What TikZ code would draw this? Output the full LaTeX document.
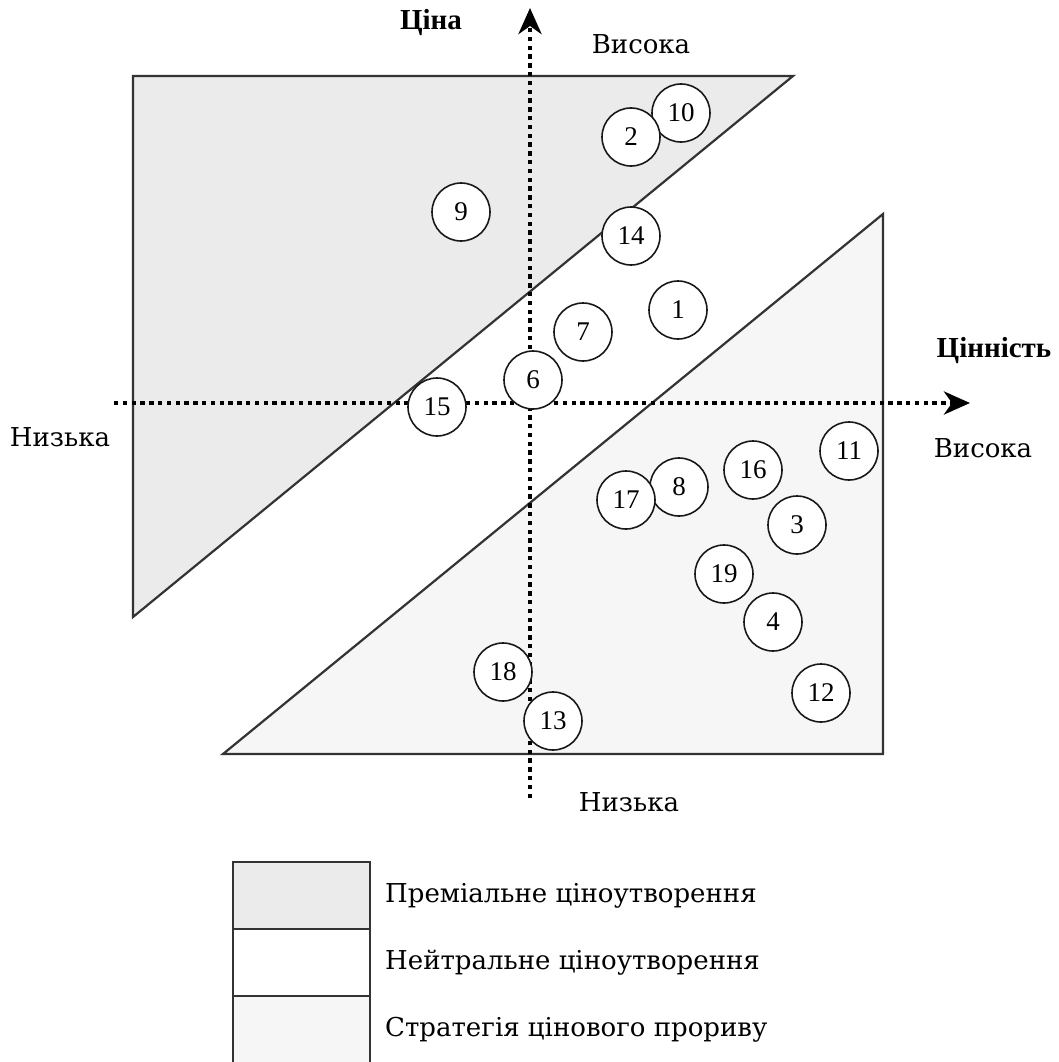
\documentclass[tikz,border=0pt]{standalone}
\usepackage{fontspec}
\setmainfont{DejaVu Serif}
\newfontfamily\boldlab{Liberation Serif}
\newfontfamily\numfont{Liberation Serif}
\usetikzlibrary{arrows.meta}
\definecolor{premium}{HTML}{EBEBEB}
\definecolor{breakthrough}{HTML}{F6F6F6}
\tikzset{
  region/.style={draw=black!80, line width=2.2pt, line join=miter},
  axisline/.style={line width=4.4pt, dash pattern=on 4.4pt off 4.4pt,
     -{Stealth[length=26pt,width=23pt,inset=8pt]}},
  firm/.style={circle, draw=black!90, line width=1.6pt, fill=white,
     minimum size=58pt, inner sep=0pt, font=\numfont\fontsize{27}{29}\selectfont},
  lab/.style={font=\fontsize{26}{29}\selectfont, inner sep=0pt},
  blab/.style={font=\boldlab\bfseries\fontsize{29}{31}\selectfont, inner sep=0pt},
}
\begin{document}
\begin{tikzpicture}[x=1pt,y=-1pt]
\useasboundingbox (0,0) rectangle (1059,1062);
\clip (0,0) rectangle (1059,1062);
% regions
\draw[region, fill=premium] (133,76) -- (793,76) -- (133,617) -- cycle;
\draw[region, fill=breakthrough] (883,214) -- (883,754) -- (223,754) -- cycle;
% axes
\coordinate (vs) at (530,798);
\coordinate (ve) at (530,8);
\coordinate (hs) at (114,403);
\coordinate (he) at (970,403);
\draw[axisline] (vs) -- (ve);
\draw[axisline] (hs) -- (he);
% axis labels
\node[blab] (tprice) at (431,23) {Ціна};
\node[lab] (thigh) at (641,44) {Висока};
\node[blab] (tvalue) at (994,351) {Цінність};
\node[lab] (rhigh) at (983,448) {Висока};
\node[lab] (llow) at (60,437) {Низька};
\node[lab] (blow) at (629,802) {Низька};
% firms
\node[firm] (c10) at (681,113) {10};
\node[firm] (c2) at (631,137) {2};
\node[firm] (c9) at (461,212) {9};
\node[firm] (c14) at (631,236) {14};
\node[firm] (c1) at (678,310) {1};
\node[firm] (c7) at (583,332) {7};
\node[firm] (c6) at (533,380) {6};
\node[firm] (c15) at (437,407) {15};
\node[firm] (c11) at (849,451) {11};
\node[firm] (c16) at (753,470) {16};
\node[firm] (c8) at (679,487) {8};
\node[firm] (c17) at (626,500) {17};
\node[firm] (c3) at (797,525) {3};
\node[firm] (c19) at (724,574) {19};
\node[firm] (c4) at (773,622) {4};
\node[firm] (c12) at (821,693) {12};
\node[firm] (c18) at (503,672) {18};
\node[firm] (c13) at (553,721) {13};
% legend
\draw[region, fill=premium] (233,862) rectangle (370,929);
\draw[region, fill=white] (233,929) rectangle (370,996);
\draw[region, fill=breakthrough] (233,996) rectangle (370,1075);
\node[lab, anchor=west] (l1) at (385,896) {Преміальне ціноутворення};
\node[lab, anchor=west] (l2) at (385,963) {Нейтральне ціноутворення};
\node[lab, anchor=west] (l3) at (385,1030) {Стратегія цінового прориву};
\end{tikzpicture}
\end{document}
